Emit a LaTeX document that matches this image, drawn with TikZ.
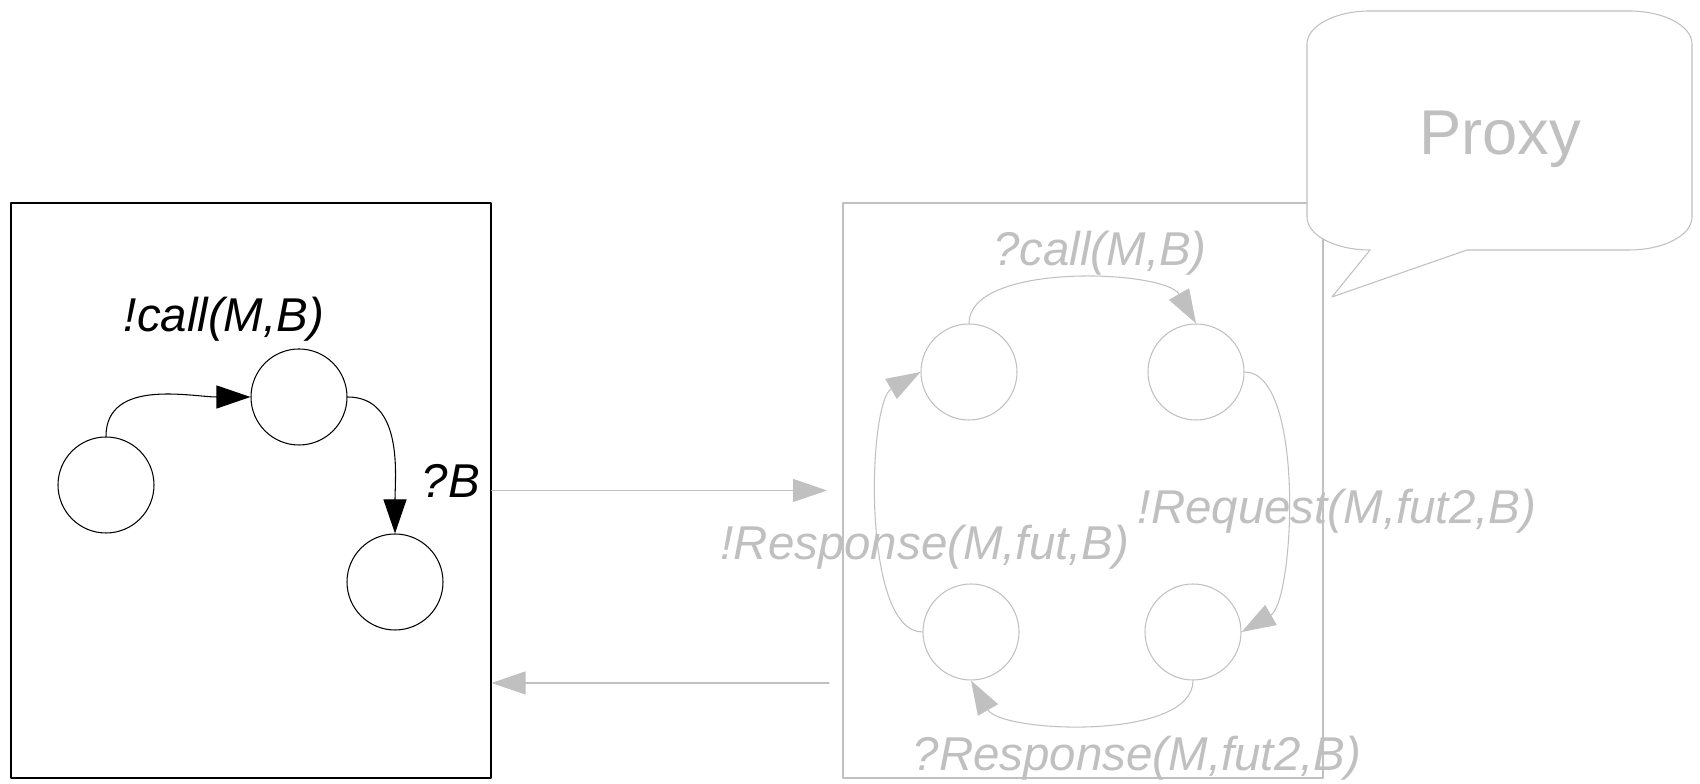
\documentclass[tikz,border=0pt]{standalone}
\usepackage{fontspec}
\setmainfont{Liberation Sans}
\usetikzlibrary{arrows.meta}
\definecolor{proxygray}{RGB}{192,192,192}
\tikzset{
  loc/.style = {circle, draw, minimum size = 1.92cm, inner sep = 0},
  msg/.style = {font = \fontsize{27}{32}\selectfont\itshape},
}

\begin{document}
\begin{tikzpicture}[line cap = round, line join = round, line width = 0.6pt,
  >={Triangle[length = 0.68cm, width = 0.46cm]}]
  \useasboundingbox (0, 0) rectangle (34cm, 15.68cm);

  % caller side
  \node[draw, minimum width = 9.6cm, minimum height = 11.5cm] (caller)
    at (5.02cm, 5.87cm) {};
  \node[loc] (c1) at (2.12cm, 5.98cm) {};
  \node[loc] (c2) at (5.98cm, 7.74cm) {};
  \node[loc] (c3) at (7.9cm, 4.04cm) {};

  \draw[->] (c1.north) to[out = 90, in = 180] (c2.west);
  \draw[->] (c2.east) to[out = 0, in = 90] (c3.north);

  \node[msg] (callsend) at (4.48cm, 9.3cm) {!call(M,B)};
  \node[msg] (bget) at (9.02cm, 6.06cm) {?B};

  % proxy side
  \begin{scope}[color = proxygray]
    \node[draw, minimum width = 9.6cm, minimum height = 11.5cm] (proxy)
      at (21.66cm, 5.87cm) {};
    \node[loc] (p1) at (19.38cm, 8.24cm) {};
    \node[loc] (p2) at (23.92cm, 8.24cm) {};
    \node[loc] (p3) at (19.42cm, 3.04cm) {};
    \node[loc] (p4) at (23.86cm, 3.04cm) {};

    \draw[->] (p1.north) to[out = 90, in = 120, looseness = 0.7] (p2.north);
    \draw[->] (p2.east) to[out = 0, in = 30, looseness = 0.6] (p4.east);
    \draw[->] (p4.south) to[out = -90, in = -60, looseness = 0.7] (p3.south);
    \draw[->] (p3.west) to[out = 180, in = 210, looseness = 0.6] (p1.west);

    \node[msg] (callget) at (22cm, 10.62cm) {?call(M,B)};
    \node[msg] (reqsend) at (26.74cm, 5.46cm) {!Request(M,fut2,B)};
    \node[msg] (respsend) at (18.5cm, 4.74cm) {!Response(M,fut,B)};
    \node[msg] (respget) at (22.74cm, 0.52cm) {?Response(M,fut2,B)};

    \coordinate (reqin) at (16.54cm, 5.87cm);
    \coordinate (respout) at (16.58cm, 2.02cm);
    \draw[->] (caller.east) -- (reqin);
    \draw[->] (respout) -- (respout -| caller.east);

    % speech bubble
    \draw[fill = white] (27.4cm, 10.68cm) -- (26.64cm, 9.74cm)
      -- (29.34cm, 10.68cm) -- (32.58cm, 10.68cm)
      arc[start angle = -90, end angle = 0, x radius = 1.26cm, y radius = 0.66cm]
      -- (33.84cm, 14.8cm)
      arc[start angle = 0, end angle = 90, x radius = 1.26cm, y radius = 0.66cm]
      -- (27.4cm, 15.46cm)
      arc[start angle = 90, end angle = 180, x radius = 1.26cm, y radius = 0.66cm]
      -- (26.14cm, 11.34cm)
      arc[start angle = 180, end angle = 270, x radius = 1.26cm, y radius = 0.66cm]
      -- cycle;
    \node[font = \fontsize{36}{43}\selectfont] (proxyname) at (30cm, 12.9cm) {Proxy};
  \end{scope}
\end{tikzpicture}
\end{document}
